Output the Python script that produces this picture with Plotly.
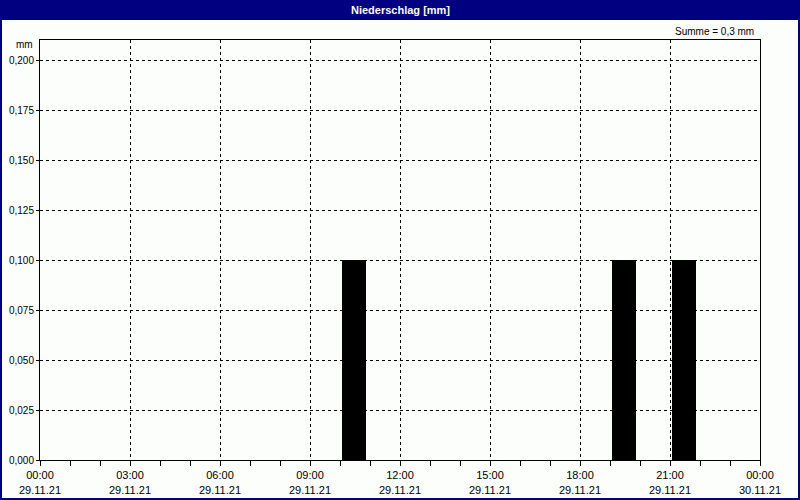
import plotly.graph_objects as go

# Data
bar_times = ["2021-11-29 10:28", "2021-11-29 19:28", "2021-11-29 21:28"]
precip_mm = [0.1, 0.1, 0.1]
y_ticks = [0, 0.025, 0.05, 0.075, 0.1, 0.125, 0.15, 0.175, 0.2]
x_start = "2021-11-29 00:00"
x_end = "2021-11-30 00:00"
title_text = "Niederschlag [mm]"
sum_text = "Summe = 0,3 mm"
unit_text = "mm"

W, H = 800, 500
L, R, T, B = 40, 40, 40, 40
PW, PH = W - L - R, H - T - B


def px(x):
    return (x - L) / PW


def py(y):
    return (H - B - y) / PH


FONT = "Liberation Sans"
NAVY = "#000080"
BG = "#FCFEFC"

fig = go.Figure()
fig.add_trace(go.Bar(
    x=bar_times, y=precip_mm,
    width=0.8 * 3600 * 1000,
    marker=dict(color="black", line=dict(width=0)),
    hoverinfo="x+y",
))

fig.update_layout(
    template="none",
    width=W, height=H,
    margin=dict(l=L, r=R, t=T, b=B, autoexpand=False),
    paper_bgcolor=BG, plot_bgcolor=BG,
    separators=",.",
    showlegend=False,
    font=dict(family=FONT, size=10, color="black"),
    bargap=0,
    xaxis=dict(
        type="date",
        automargin=False,
        range=[x_start, x_end],
        dtick=3 * 3600 * 1000,
        tick0=x_start,
        tickformat="%H:%M<br>%d.%m.%y",
        ticks="outside", ticklen=5, tickcolor="black", tickwidth=1,
        minor=dict(dtick=3600 * 1000, ticks="outside", ticklen=5, tickcolor="black", showgrid=False),
        showgrid=True, gridcolor="black", griddash="3px,3px", gridwidth=1,
        showline=True, linecolor="black", linewidth=1, mirror=True,
        zeroline=False,
        ticklabelstandoff=0,
        tickfont=dict(family=FONT, size=11, color="black"),
        fixedrange=True,
    ),
    yaxis=dict(
        automargin=False,
        range=[0, 0.21],
        tickvals=y_ticks,
        tickformat=".3f",
        ticks="outside", ticklen=3, tickcolor="black",
        showgrid=True, gridcolor="black", griddash="3px,3px", gridwidth=1,
        showline=True, linecolor="black", linewidth=1, mirror=True,
        zeroline=False,
        tickfont=dict(family=FONT, size=10, color="black"),
        fixedrange=True,
    ),
    shapes=[
        dict(type="rect", xref="paper", yref="paper",
             x0=px(0), x1=px(W), y0=py(20), y1=py(0),
             fillcolor=NAVY, line=dict(width=0), layer="above"),
        dict(type="rect", xref="paper", yref="paper",
             x0=px(0), x1=px(W), y0=py(H), y1=py(0),
             fillcolor="rgba(0,0,0,0)", line=dict(color=NAVY, width=4), layer="above"),
    ],
    annotations=[
        dict(text="<b>" + title_text + "</b>", xref="paper", yref="paper",
             x=0.5, y=py(10), xanchor="center", yanchor="middle", showarrow=False,
             font=dict(family=FONT, size=11, color="white")),
        dict(text=sum_text, xref="paper", yref="paper",
             x=px(756), y=py(31), xanchor="right", yanchor="middle", showarrow=False,
             font=dict(family=FONT, size=10, color="black")),
        dict(text=unit_text, xref="paper", yref="paper",
             x=px(35), y=py(45), xanchor="right", yanchor="middle", showarrow=False,
             font=dict(family=FONT, size=10, color="black")),
    ],
)

fig.write_html(
    "out.html",
    config={"displayModeBar": False},
    post_script="document.body.style.margin='0';document.body.style.padding='0';",
)
